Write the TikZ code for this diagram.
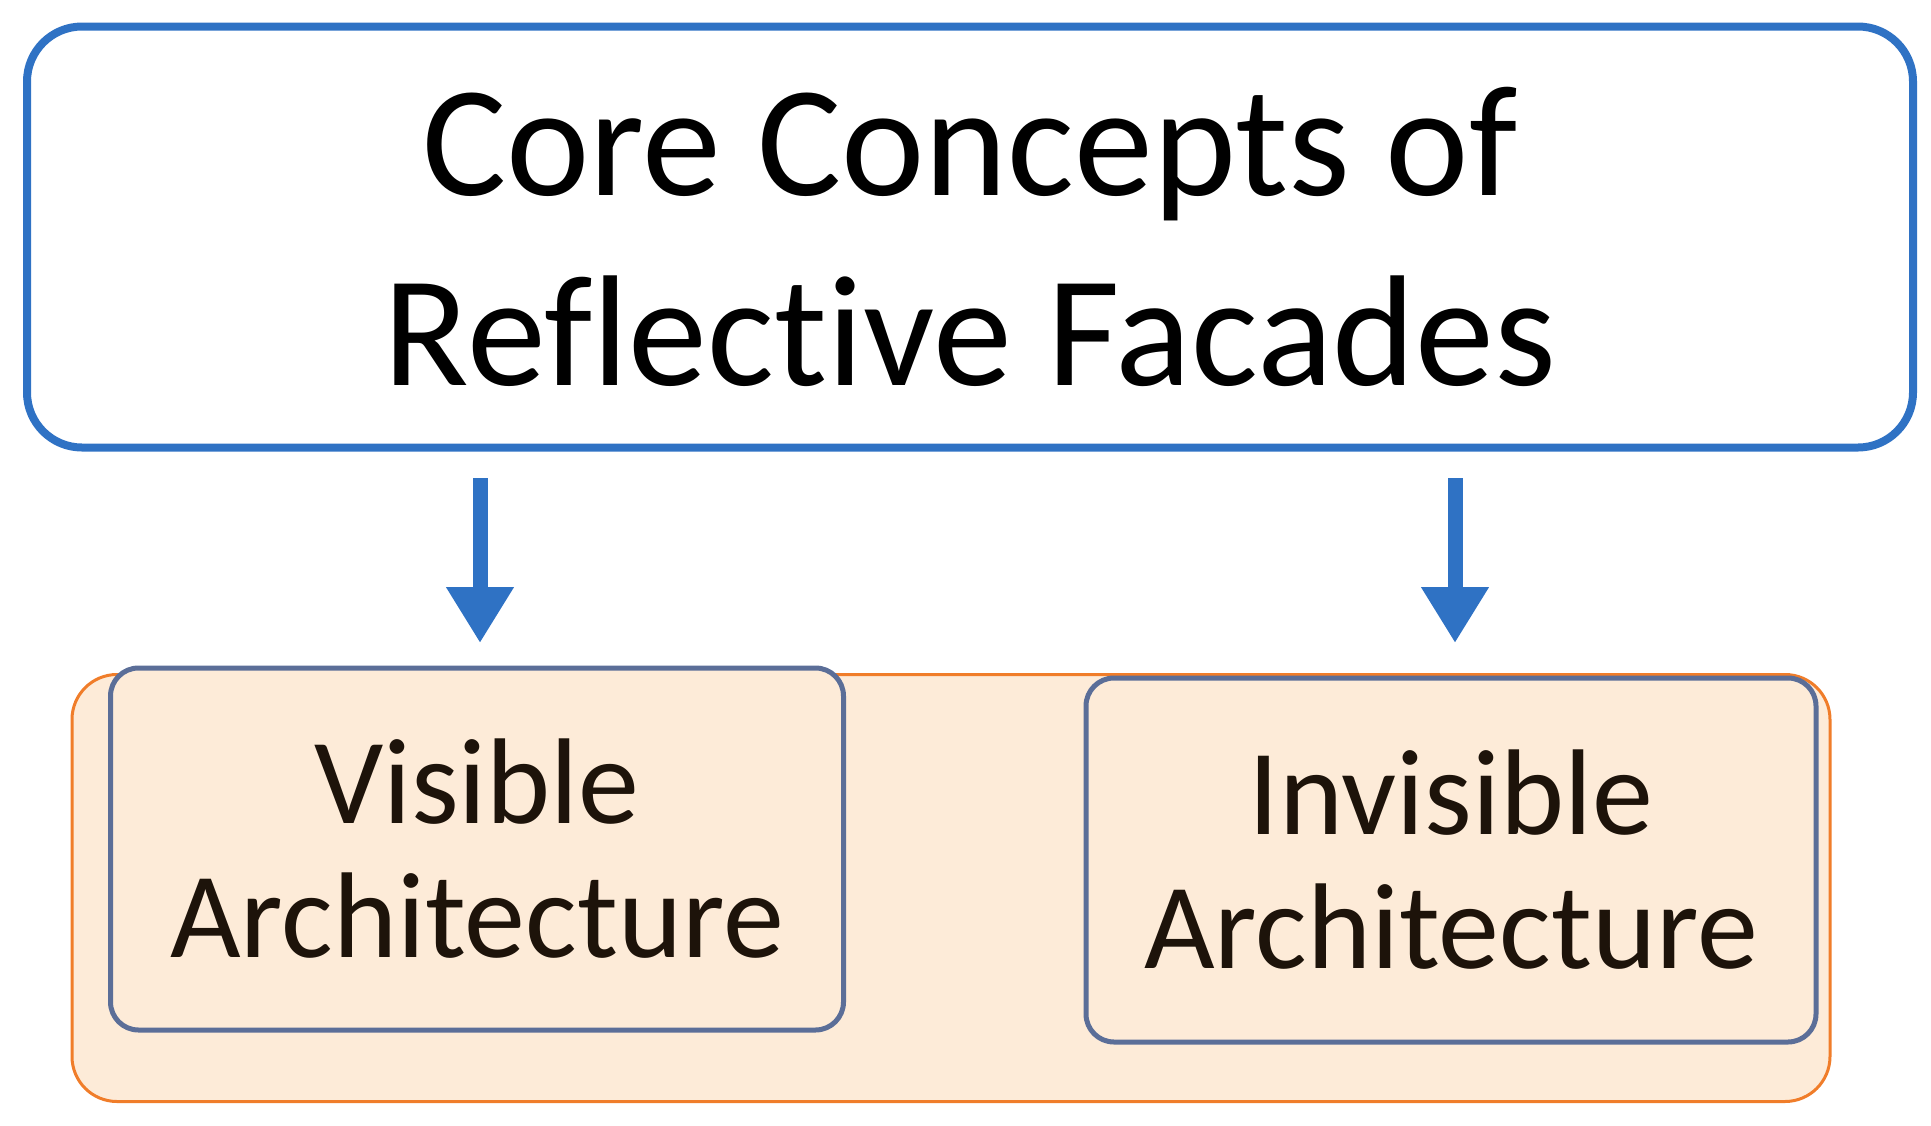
\documentclass[tikz,border=0pt]{standalone}
\usepackage{fontspec}
\setmainfont{Carlito}[Ligatures={NoCommon}]
\usetikzlibrary{arrows.meta}
\definecolor{bl}{HTML}{2F72C4}
\definecolor{or}{HTML}{F07D2A}
\definecolor{fl}{HTML}{FDEBD8}
\definecolor{gb}{HTML}{5B6E98}
\begin{document}
\begin{tikzpicture}[x=1pt,y=-1pt,
  box/.style={draw=gb,line width=5pt,fill=fl,rounded corners=28pt,font=\fontsize{122}{134}\selectfont,align=center,text=black!85!brown},
  arr/.style={draw=bl,line width=15pt,-{Triangle[width=64pt,length=56pt]}}]
\useasboundingbox (0,0) rectangle (1931,1125);
\node[draw=bl,line width=8pt,rounded corners=55pt,minimum width=1886pt,minimum height=421pt,font=\fontsize{158}{190}\selectfont,align=center] (top) at (970,237) {Core Concepts of\\Reflective Facades};
\node[draw=or,line width=3pt,fill=fl,rounded corners=45pt,minimum width=1758pt,minimum height=427pt] (grp) at (951,888) {};
\node[box,minimum width=733pt,minimum height=362pt] (vis) at (477,849) {Visible\\Architecture};
\node[box,minimum width=730pt,minimum height=364pt] (inv) at (1451,860) {Invisible\\Architecture};
\coordinate (a1) at (480,478); \coordinate (a2) at (480,643);
\coordinate (b1) at (1455,478); \coordinate (b2) at (1455,643);
\draw[arr] (a1) -- (a2);
\draw[arr] (b1) -- (b2);
\end{tikzpicture}
\end{document}
